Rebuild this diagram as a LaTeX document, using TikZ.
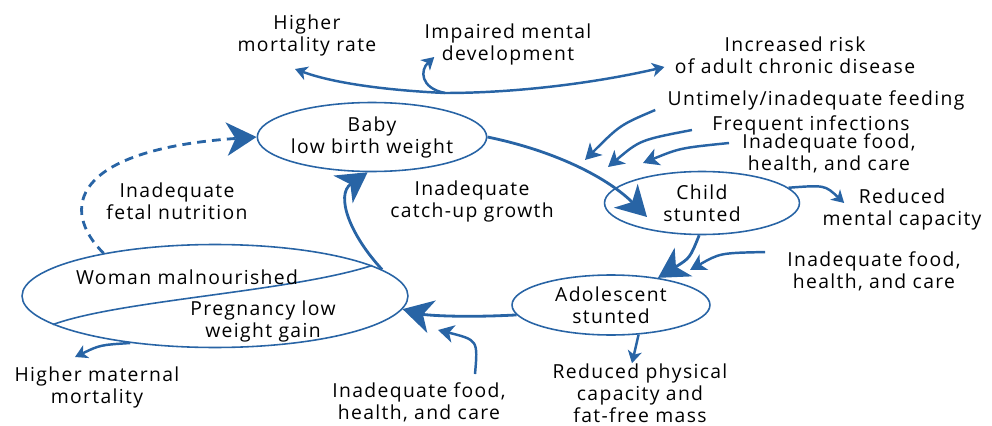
\documentclass[tikz,border=0pt]{standalone}
\usepackage{fontspec}
\setmainfont[LetterSpace=7]{Open Sans}
\usetikzlibrary{arrows.meta,shapes.geometric}
\definecolor{cycleblue}{RGB}{40,100,165}

\begin{document}
\begin{tikzpicture}[x=0.02cm, y=-0.02cm,
  every node/.style={font=\fontsize{11}{12.5}\selectfont},
  stage/.style={ellipse, draw=cycleblue, line width=0.9pt, fill=white, inner sep=0pt, align=center},
  txt/.style={align=center, inner sep=0pt},
  cycle/.style={cycleblue, line width=1.6pt, -{Stealth[length=17pt, width=19pt, inset=5pt]}},
  outarrow/.style={cycleblue, line width=1.4pt, -{Stealth[length=7pt, width=8pt, inset=2pt]}},
  inarrow/.style={cycleblue, line width=1.4pt, -{Stealth[length=9pt, width=10pt, inset=2.5pt]}}]
 \useasboundingbox (0,0) rectangle (992,426);

 \node[stage, minimum width=4.52cm, minimum height=1.38cm] (baby) at (372,137) {Baby\\low birth weight};
 \node[stage, minimum width=3.9cm, minimum height=1.26cm] (child) at (702,203) {Child\\stunted};
 \node[stage, minimum width=3.96cm, minimum height=1.2cm] (teen) at (611,305) {Adolescent\\stunted};
 \node[stage, minimum width=7.72cm, minimum height=2.06cm] (woman) at (215,296) {};
 \draw[cycleblue, line width=0.9pt] (woman.190) .. controls (120,300) and (290,292) .. (woman.11);
 \node[txt] (malnour) at (187,277) {Woman malnourished};
 \node[txt] (preg) at (263,321) {Pregnancy low\\weight gain};

 \node[txt] (mort) at (307,35) {Higher\\mortality rate};
 \node[txt] (mental) at (508,44) {Impaired mental\\development};
 \node[txt] (chronic) at (795,55) {Increased risk\\of adult chronic disease};
 \node[txt] (feeding) at (816,100) {Untimely/inadequate feeding};
 \node[txt] (infect) at (811,125) {Frequent infections};
 \node[txt] (foodchild) at (829,153) {Inadequate food,\\health, and care};
 \node[txt] (mentcap) at (902,209) {Reduced\\mental capacity};
 \node[txt] (foodteen) at (874,271) {Inadequate food,\\health, and care};
 \node[txt] (physical) at (640,393) {Reduced physical\\capacity and\\fat-free mass};
 \node[txt] (foodwoman) at (419,402) {Inadequate food,\\health, and care};
 \node[txt] (maternal) at (97,387) {Higher maternal\\mortality};
 \node[txt] (fetal) at (177,201) {Inadequate\\fetal nutrition};
 \node[txt] (catchup) at (472,201) {Inadequate\\catch-up growth};

 \draw[cycle] (baby.east) .. controls (560,152) and (610,180) .. ([shift={(-55,14)}]child.center);
 \draw[cycle] (child.-95) .. controls (690,258) .. (teen.30);
 \draw[cycle] (teen.186) .. controls (460,318) and (425,315) .. (woman.-4);
 \draw[cycle] (woman.9) .. controls (350,235) and (335,195) .. (baby.-97);
 \draw[cycle, dash pattern=on 5pt off 3.5pt] (woman.159) .. controls (60,210) and (70,150) .. (baby.west);

 \coordinate (fork) at (445,93);
 \draw[outarrow] (fork) .. controls (380,90) and (330,82) .. ([shift={(-12,13)}]mort.south);
 \draw[outarrow] (fork) .. controls (420,88) and (420,70) .. ([shift={(10,13)}]mental.west);
 \draw[outarrow] (fork) .. controls (520,93) and (600,82) .. ([shift={(-10,12)}]chronic.west);
 \draw[outarrow] (child.10) .. controls (825,185) .. ([shift={(22,-6)}]mentcap.west);
 \draw[outarrow] (teen.-47) -- ([shift={(-8,0)}]physical.north);
 \draw[outarrow] (woman.209) .. controls (100,345) .. ([shift={(-22,-9)}]maternal.north);

 \coordinate (feedtip) at (585,160);
 \coordinate (infecttip) at (608,167);
 \coordinate (foodtip) at (643,163);
 \coordinate (teentip) at (690,270);
 \coordinate (womantip) at (438,330);
 \draw[inarrow] ([shift={(-12,10)}]feeding.west) .. controls (620,125) .. (feedtip);
 \draw[inarrow] ([shift={(-20,5)}]infect.west) .. controls (640,140) .. (infecttip);
 \draw[inarrow] ([shift={(-13,-10)}]foodchild.west) .. controls (680,148) .. (foodtip);
 \draw[inarrow] ([shift={(-22,1)}]foodteen.north west) .. controls (720,253) .. (teentip);
 \draw[inarrow] ([shift={(56,-8)}]foodwoman.north) .. controls (478,340) .. (womantip);
\end{tikzpicture}
\end{document}
